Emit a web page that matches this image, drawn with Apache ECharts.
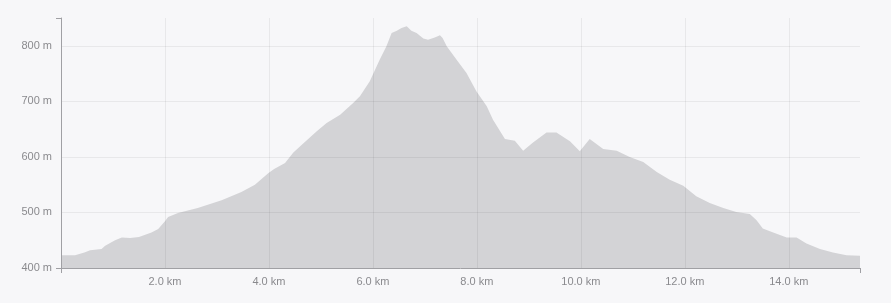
<!DOCTYPE html>
<html>
<head>
<meta charset="utf-8">
<script src="https://cdn.jsdelivr.net/npm/echarts@6/dist/echarts.min.js"></script>
<style>
html,body{margin:0;padding:0;background:#f7f7f9;}
#c{width:891px;height:303px;}
</style>
</head>
<body>
<div id="c"></div>
<script>
const distanceKm = [0,0.27,0.45,0.56,0.78,0.85,1.04,1.17,1.33,1.5,1.74,1.87,2.0,2.06,2.25,2.63,3.09,3.47,3.73,3.98,4.1,4.31,4.47,4.67,4.92,5.11,5.37,5.62,5.75,5.94,6.13,6.26,6.36,6.46,6.55,6.65,6.74,6.84,6.97,7.06,7.19,7.29,7.34,7.42,7.61,7.8,7.99,8.19,8.31,8.54,8.73,8.89,9.08,9.34,9.53,9.79,9.98,10.17,10.43,10.69,10.94,11.2,11.46,11.71,11.97,12.22,12.48,12.74,12.99,13.25,13.38,13.5,13.7,13.96,14.15,14.34,14.6,14.85,15.11,15.37];
const elevationM = [423,423,428,432,434,440,450,455,454,456,464,470,484,492,499,508,522,537,550,570,578,589,608,625,646,661,676,697,709,736,775,799,823,827,832,835,827,823,813,811,815,819,814,799,775,751,718,691,667,632,629,611,626,644,644,628,610,632,614,611,600,591,573,559,548,529,517,508,501,497,486,471,464,455,455,444,434,428,423,422];
const xMax = 15.37;
const yMin = 400, yMax = 850;

const chart = echarts.init(document.getElementById('c'));
const data = distanceKm.map((d,i)=>[d, elevationM[i]]);
const labelFont = {color:'#8a8a8e', fontSize:11, fontFamily:'"Liberation Sans", Arial, sans-serif'};
const gridColor = 'rgba(0,0,0,0.06)';
chart.setOption({
  backgroundColor:'#f7f7f9',
  animation:false,
  grid:{left:61,right:31,top:18,bottom:35,containLabel:false},
  xAxis:[{
    type:'value', min:0, max:xMax, interval:2, z:3,
    axisLine:{show:true,lineStyle:{color:'#a0a0a4',width:1}},
    axisTick:{show:false},
    axisLabel:Object.assign({margin:8,showMinLabel:false,showMaxLabel:false,formatter:v=>v.toFixed(1)+' km'},labelFont),
    splitLine:{show:true,showMinLine:false,showMaxLine:false,lineStyle:{color:gridColor,width:1}}
  },{
    type:'value', min:0, max:xMax, interval:xMax, position:'bottom', z:3,
    axisLine:{show:false},
    axisTick:{show:true,length:5,lineStyle:{color:'#a0a0a4'}},
    axisLabel:{show:false},
    splitLine:{show:false}
  }],
  yAxis:[{
    type:'value', min:yMin, max:yMax, interval:100, z:3,
    axisLine:{show:true,lineStyle:{color:'#a0a0a4',width:1}},
    axisTick:{show:false},
    axisLabel:Object.assign({margin:9,showMaxLabel:false,formatter:v=>v+' m'},labelFont),
    splitLine:{show:true,showMinLine:false,showMaxLine:false,lineStyle:{color:gridColor,width:1}}
  },{
    type:'value', min:yMin, max:yMax, interval:yMax-yMin, position:'left', z:3,
    axisLine:{show:false},
    axisTick:{show:true,length:5,lineStyle:{color:'#a0a0a4'}},
    axisLabel:{show:false},
    splitLine:{show:false}
  }],
  series:[{
    type:'line', data:data, symbol:'none', smooth:false,
    xAxisIndex:0, yAxisIndex:0,
    lineStyle:{width:0,color:'#d3d3d6'},
    areaStyle:{color:'#d3d3d6',opacity:1},
    z:1
  }]
});
</script>
</body>
</html>
